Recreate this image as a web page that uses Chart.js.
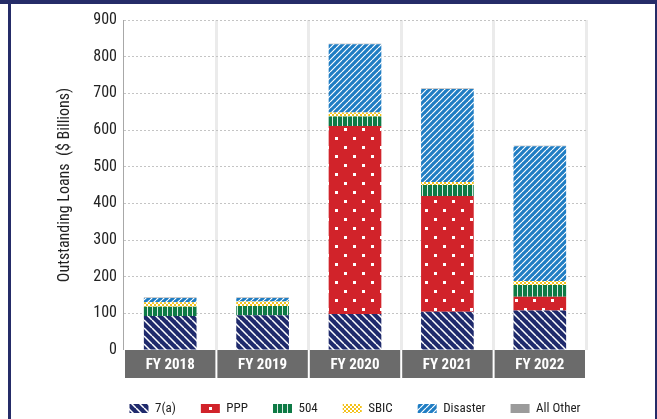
<!DOCTYPE html>
<html>
<head>
<meta charset="utf-8">
<script src="https://cdn.jsdelivr.net/npm/chart.js@4.4.1/dist/chart.umd.min.js"></script>
<style>
html, body { margin: 0; padding: 0; background: #fff; }
#wrap { position: relative; width: 657px; height: 419px; overflow: hidden; }
#chart { position: absolute; left: 0; top: 0; }
.edge { position: absolute; background: #252c68; }
</style>
</head>
<body>
<div id="wrap">
  <canvas id="chart" width="657" height="419"></canvas>
  <div class="edge" style="left:0;top:0;width:657px;height:4px"></div>
  <div class="edge" style="left:8px;top:0;width:3px;height:419px"></div>
  <div class="edge" style="left:655px;top:0;width:2px;height:419px"></div>
</div>
<script>
// values, $ billions
const years = ['FY 2018', 'FY 2019', 'FY 2020', 'FY 2021', 'FY 2022'];
const loans7a = [93, 95, 98, 104, 108];
const ppp = [0, 0, 513, 316, 37];
const loans504 = [25, 25, 26, 30, 32];
const sbic = [12, 12, 11, 8, 11];
const disaster = [12, 10, 186, 254, 368];
const allOther = [1, 1, 1, 1, 1];
const yTicks = [0, 100, 200, 300, 400, 500, 600, 700, 800, 900];

const FONT = "'Roboto Condensed', 'DejaVu Sans Condensed', sans-serif";
const ctx = document.getElementById('chart').getContext('2d');

// small tiles used as fills
function tile(bg, w, h, draw) {
    const c = document.createElement('canvas');
    c.width = w; c.height = h;
    const g = c.getContext('2d');
    g.fillStyle = bg;
    g.fillRect(0, 0, w, h);
    g.fillStyle = '#fff';
    g.strokeStyle = '#fff';
    draw(g, w, h);
    return ctx.createPattern(c, 'repeat');
}

function stripes(bg, s, lw, forward) {
    return tile(bg, s, s, (g) => {
        g.lineWidth = lw;
        g.beginPath();
        for (let k = -s; k <= s; k += s) {
            if (forward) { g.moveTo(k, s); g.lineTo(k + s, 0); }
            else { g.moveTo(k, 0); g.lineTo(k + s, s); }
        }
        g.stroke();
    });
}

const fill7a = stripes('#1f2a6c', 8, 1.5, false);
const fillDisaster = stripes('#1f7dc3', 6, 1.2, true);
const fillPpp = tile('#d1232a', 18, 18, (g) => {
    g.fillRect(2, 2, 3, 3);
    g.fillRect(11, 11, 3, 3);
});
const fill504 = tile('#0e7a45', 5, 4, (g) => {
    g.globalAlpha = 0.85;
    g.fillRect(2, 0, 1, 4);
});
const fillSbic = tile('#f3c21b', 4, 4, (g) => {
    g.fillRect(0, 0, 2, 2);
    g.fillRect(2, 2, 2, 2);
});

// gray label band under each year
const labelBand = {
    id: 'labelBand',
    beforeDraw(chart) {
        const x = chart.scales.x, a = chart.chartArea, c = chart.ctx;
        const w = (a.right - a.left) / years.length;
        c.save();
        c.fillStyle = '#6b6b6b';
        years.forEach((_, i) => {
            const cx = x.getPixelForValue(i);
            c.fillRect(cx - w / 2 + 1, a.bottom, w - 2, 28);
        });
        c.restore();
    }
};

// legend sits under the plot area, centred on it
const legendPlace = {
    id: 'legendPlace',
    beforeDraw(chart) {
        const lg = chart.legend, a = chart.chartArea;
        lg.left = a.left - 40;
        lg.right = a.right + 40;
        lg.top = chart.height - 42;
    }
};

new Chart(ctx, {
    type: 'bar',
    data: {
        labels: years,
        datasets: [
            { label: '7(a)', data: loans7a, backgroundColor: fill7a },
            { label: 'PPP', data: ppp, backgroundColor: fillPpp },
            { label: '504', data: loans504, backgroundColor: fill504 },
            { label: 'SBIC', data: sbic, backgroundColor: fillSbic },
            { label: 'Disaster', data: disaster, backgroundColor: fillDisaster },
            { label: 'All Other', data: allOther, backgroundColor: '#9b9b9b' }
        ]
    },
    options: {
        responsive: false,
        animation: false,
        devicePixelRatio: 1,
        layout: { padding: { top: 20, right: 71, left: 55, bottom: 0 } },
        datasets: { bar: { barPercentage: 0.57, categoryPercentage: 1, borderWidth: 0 } },
        plugins: {
            tooltip: { enabled: false },
            legend: {
                position: 'bottom',
                maxHeight: 30,
                labels: {
                    boxWidth: 19,
                    boxHeight: 9,
                    padding: 25,
                    color: '#222',
                    font: { family: FONT, size: 13 }
                }
            }
        },
        scales: {
            x: {
                stacked: true,
                grid: {
                    offset: true,
                    drawTicks: false,
                    lineWidth: (c) => c.index === 0 ? 1 : 3,
                    color: (c) => c.index === 0 ? '#a8a8a8' : (c.index === years.length ? 'rgba(0,0,0,0)' : '#ebebeb')
                },
                border: { display: false },
                ticks: { color: '#fff', padding: 6, font: { family: FONT, size: 15, weight: 'bold' } },
                afterFit: (s) => { s.height = 39; }
            },
            y: {
                stacked: true,
                min: 0,
                max: 900,
                afterBuildTicks: (s) => { s.ticks = yTicks.map(v => ({ value: v })); },
                grid: {
                    drawTicks: false,
                    color: (c) => c.tick && c.tick.value === 0 ? 'rgba(0,0,0,0)' : '#c4c4c4'
                },
                border: { display: false, dash: [2, 2] },
                ticks: { color: '#222', padding: 7, font: { family: FONT, size: 16 } },
                title: {
                    display: true,
                    text: 'Outstanding Loans  ($ Billions)',
                    color: '#222',
                    padding: 0,
                    font: { family: FONT, size: 16 }
                },
                afterFit: (s) => { s.width = 69; }
            }
        }
    },
    plugins: [labelBand, legendPlace]
});
</script>
</body>
</html>
